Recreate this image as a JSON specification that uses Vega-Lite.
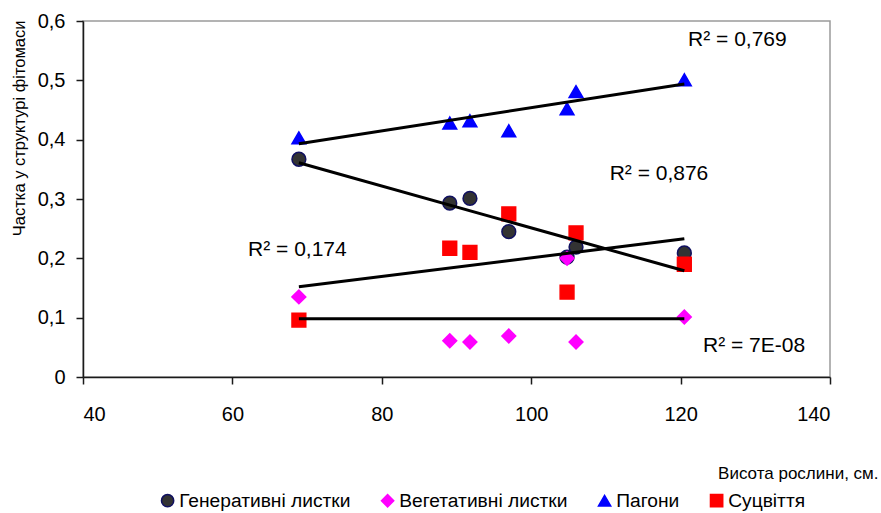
{
  "$schema": "https://vega.github.io/schema/vega-lite/v6.json",
  "width": 747,
  "height": 356,
  "autosize": {"type": "none"},
  "padding": {"left": 83, "top": 21, "right": 51, "bottom": 136},
  "background": "white",
  "config": {
    "view": {"stroke": "#9a9a9a", "strokeWidth": 1.5},
    "font": "Liberation Sans",
    "axis": {
      "grid": false,
      "domainColor": "#1a1a1a",
      "domainWidth": 1.5,
      "tickColor": "#1a1a1a",
      "tickWidth": 1.5,
      "tickSize": 7,
      "labelFont": "Liberation Sans",
      "labelFontSize": 20,
      "labelColor": "black",
      "titleFont": "Liberation Sans",
      "titleFontSize": 17,
      "titleFontWeight": "normal",
      "titleColor": "black"
    },
    "legend": {
      "labelFont": "Liberation Sans"
    }
  },
  "datasets": {
    "points": [
      {"series": "Генеративні листки", "x": 68.9, "y": 0.367},
      {"series": "Генеративні листки", "x": 89.1, "y": 0.293},
      {"series": "Генеративні листки", "x": 91.8, "y": 0.301},
      {"series": "Генеративні листки", "x": 97.0, "y": 0.245},
      {"series": "Генеративні листки", "x": 104.8, "y": 0.202},
      {"series": "Генеративні листки", "x": 106.0, "y": 0.219},
      {"series": "Генеративні листки", "x": 120.5, "y": 0.209},
      {"series": "Вегетативні листки", "x": 68.9, "y": 0.135},
      {"series": "Вегетативні листки", "x": 89.1, "y": 0.061},
      {"series": "Вегетативні листки", "x": 91.8, "y": 0.059},
      {"series": "Вегетативні листки", "x": 97.0, "y": 0.069},
      {"series": "Вегетативні листки", "x": 104.8, "y": 0.200},
      {"series": "Вегетативні листки", "x": 106.0, "y": 0.059},
      {"series": "Вегетативні листки", "x": 120.5, "y": 0.101},
      {"series": "Пагони", "x": 68.9, "y": 0.403},
      {"series": "Пагони", "x": 89.1, "y": 0.428},
      {"series": "Пагони", "x": 91.8, "y": 0.432},
      {"series": "Пагони", "x": 97.0, "y": 0.415},
      {"series": "Пагони", "x": 104.8, "y": 0.452},
      {"series": "Пагони", "x": 106.0, "y": 0.481},
      {"series": "Пагони", "x": 120.5, "y": 0.501},
      {"series": "Суцвіття", "x": 68.9, "y": 0.096},
      {"series": "Суцвіття", "x": 89.1, "y": 0.217},
      {"series": "Суцвіття", "x": 91.8, "y": 0.210},
      {"series": "Суцвіття", "x": 97.0, "y": 0.275},
      {"series": "Суцвіття", "x": 104.8, "y": 0.143},
      {"series": "Суцвіття", "x": 106.0, "y": 0.243},
      {"series": "Суцвіття", "x": 120.5, "y": 0.190}
    ],
    "trends": [
      {"series": "Пагони", "x": 68.9, "y": 0.393},
      {"series": "Пагони", "x": 120.5, "y": 0.494},
      {"series": "Генеративні листки", "x": 68.9, "y": 0.361},
      {"series": "Генеративні листки", "x": 120.5, "y": 0.179},
      {"series": "Суцвіття", "x": 68.9, "y": 0.152},
      {"series": "Суцвіття", "x": 120.5, "y": 0.233},
      {"series": "Вегетативні листки", "x": 68.9, "y": 0.098},
      {"series": "Вегетативні листки", "x": 120.5, "y": 0.098}
    ],
    "labels": [
      {"x": 121.0, "y": 0.568, "text": "R² = 0,769"},
      {"x": 110.5, "y": 0.342, "text": "R² = 0,876"},
      {"x": 62.1, "y": 0.214, "text": "R² = 0,174"},
      {"x": 123.0, "y": 0.052, "text": "R² = 7E-08"}
    ]
  },
  "layer": [
    {
      "data": {"name": "points"},
      "mark": {"type": "point", "filled": true, "strokeWidth": 1.5, "opacity": 1, "size": 190},
      "encoding": {
        "x": {
          "field": "x",
          "type": "quantitative",
          "scale": {"domain": [40, 140], "nice": false, "zero": false},
          "axis": {
            "values": [40, 60, 80, 100, 120, 140],
            "title": "Висота рослини, см.",
            "labelPadding": 20,
            "titleAnchor": "end",
            "titleAlign": "right",
            "titleBaseline": "middle",
            "titleX": 795,
            "titleY": 96
          }
        },
        "y": {
          "field": "y",
          "type": "quantitative",
          "scale": {"domain": [0, 0.6], "nice": false},
          "axis": {
            "values": [0, 0.1, 0.2, 0.3, 0.4, 0.5, 0.6],
            "labelExpr": "datum.value == 0 ? '0' : replace(format(datum.value, '.1f'), '.', ',')",
            "labelPadding": 11,
            "title": "Частка у структурі фітомаси",
            "titleFontSize": 16.5,
            "titleAngle": -90,
            "titleAlign": "right",
            "titleBaseline": "middle",
            "titleX": -64,
            "titleY": -1
          }
        },
        "fill": {
          "field": "series",
          "type": "nominal",
          "scale": {
            "domain": ["Генеративні листки", "Вегетативні листки", "Пагони", "Суцвіття"],
            "range": ["#333333", "#FF00FF", "#0000FF", "#FF0000"]
          },
          "legend": {
            "orient": "none",
            "direction": "horizontal",
            "legendX": 75,
            "legendY": 470,
            "padding": 0,
            "title": null,
            "labelFontSize": 19.2,
            "labelColor": "black",
            "labelLimit": 400,
            "labelOffset": 2,
            "symbolSize": 150,
            "symbolStrokeWidth": 1.5,
            "columnPadding": 27
          }
        },
        "stroke": {
          "field": "series",
          "type": "nominal",
          "scale": {
            "domain": ["Генеративні листки", "Вегетативні листки", "Пагони", "Суцвіття"],
            "range": ["#101060", "#FF00FF", "#0000FF", "#FF0000"]
          }
        },
        "shape": {
          "field": "series",
          "type": "nominal",
          "scale": {
            "domain": ["Генеративні листки", "Вегетативні листки", "Пагони", "Суцвіття"],
            "range": ["circle", "diamond", "triangle-up", "square"]
          }
        }
      }
    },
    {
      "data": {"name": "trends"},
      "mark": {"type": "line", "color": "black", "strokeWidth": 3},
      "encoding": {
        "x": {"field": "x", "type": "quantitative"},
        "y": {"field": "y", "type": "quantitative"},
        "detail": {"field": "series", "type": "nominal"}
      }
    },
    {
      "data": {"name": "labels"},
      "mark": {"type": "text", "font": "Liberation Sans", "fontSize": 21, "align": "left", "baseline": "middle", "color": "black"},
      "encoding": {
        "x": {"field": "x", "type": "quantitative"},
        "y": {"field": "y", "type": "quantitative"},
        "text": {"field": "text", "type": "nominal"}
      }
    }
  ]
}
